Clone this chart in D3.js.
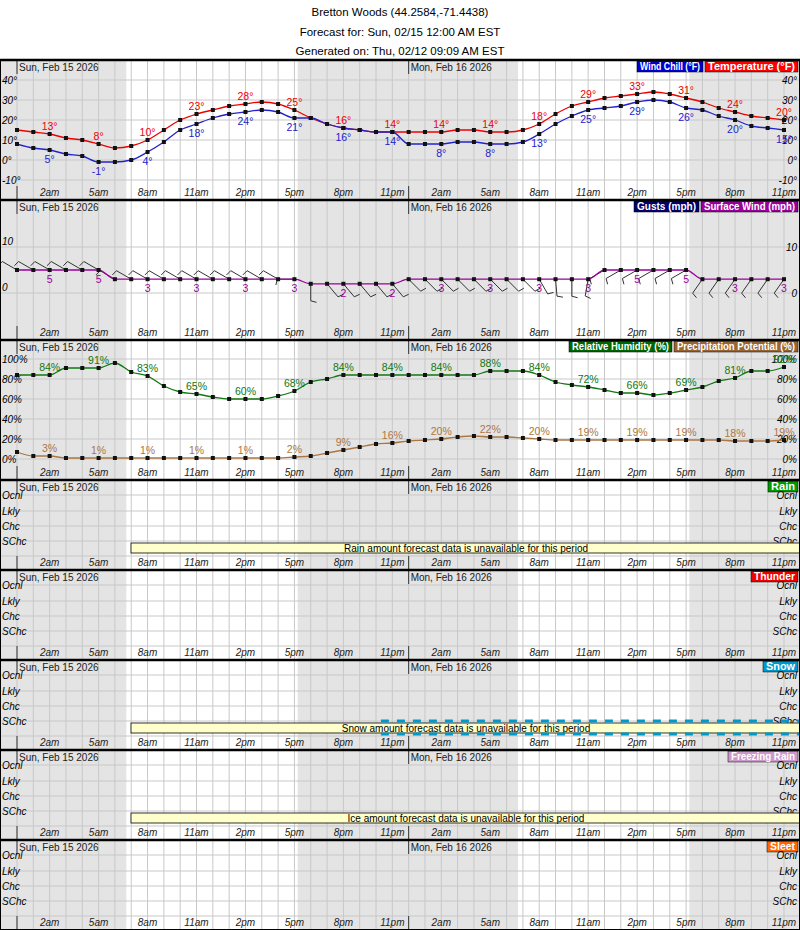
<!DOCTYPE html>
<html><head><meta charset="utf-8">
<script src="https://cdn.jsdelivr.net/npm/d3@7"></script>
<style>body{margin:0;background:#fff}svg{font-family:"Liberation Sans",Arial,sans-serif}</style>
</head><body><div id="app"></div>
<script>
const hours = d3.range(48);
const temperature = [15,14,13,11,10,8,6,7,10,15,20,23,25,27,28,29,28,25,21,18,16,15,14,14,
  14,14,14,15,15,14,14,15,18,23,27,29,31,32,33,34,33,31,29,26,24,22,21,20];
const windChill = [8,6,5,3,2,-1,-1,0,4,9,15,18,21,23,24,25,24,21,21,18,16,15,14,14,
  8,8,8,9,9,8,8,9,13,18,22,25,26,27,29,30,29,26,25,22,20,17,16,15];
const surfaceWind = [5,5,5,5,5,5,3,3,3,3,3,3,3,3,3,3,3,3,2,2,2,2,2,2,
  3,3,3,3,3,3,3,3,3,3,3,3,5,5,5,5,5,5,3,3,3,3,3,3];
const windDir = [300,300,300,300,300,300,300,300,300,300,300,300,300,300,300,300,300,270,180,140,140,140,140,140,
  135,135,135,135,135,135,135,135,150,175,180,190,240,240,240,240,240,240,215,215,215,215,215,215];
const humidity = [84,84,84,91,91,91,96,87,83,73,67,65,62,60,60,60,63,68,77,80,84,84,84,84,
  84,84,84,84,84,88,88,88,84,77,74,72,69,66,66,64,66,69,72,78,81,88,88,92];
const precipPot = [7,3,3,1,1,1,1,1,1,1,1,1,1,1,1,1,1,2,3,6,9,12,15,16,
  18,19,20,22,23,22,22,21,20,19,19,19,19,19,19,19,19,19,19,19,18,18,18,19];
const tickHours = d3.range(2, 48, 3);
const tickLabels = ['2am','5am','8am','11am','2pm','5pm','8pm','11pm'];
const dayLabels = ['Sun, Feb 15 2026', 'Mon, Feb 16 2026'];
const nightSpans = [[-1, 6.7], [17.2, 30.7], [41.2, 49]];
const rowLabels = ['Ocnl', 'Lkly', 'Chc', 'SChc'];

const W = 800, H = 930;
const x = d3.scaleLinear().domain([0, 47]).range([17, 784]);
const svg = d3.select('#app').append('svg').attr('width', W).attr('height', H);

// titles
['Bretton Woods (44.2584,-71.4438)', 'Forecast for: Sun, 02/15 12:00 AM EST', 'Generated on: Thu, 02/12 09:09 AM EST']
  .forEach((t, i) => svg.append('text').attr('x', 400).attr('y', 16 + i * 19.5)
    .attr('text-anchor', 'middle').attr('font-size', 11.5).text(t));

// draw common panel frame: shading, grid, dates, time labels
function panel(top, h, hLines, legends, showTimes = true) {
  const g = svg.append('g');
  g.append('rect').attr('x', 0).attr('y', top).attr('width', W).attr('height', h).attr('fill', '#fff');
  nightSpans.forEach(([a, b]) => g.append('rect')
    .attr('x', Math.max(0, x(a))).attr('y', top).attr('width', Math.min(W, x(b)) - Math.max(0, x(a)))
    .attr('height', h).attr('fill', '#e4e4e4'));
  hours.forEach(d => g.append('line').attr('x1', x(d)).attr('x2', x(d)).attr('y1', top).attr('y2', top + h)
    .attr('stroke', '#c8c8c8'));
  hLines.forEach(yy => g.append('line').attr('x1', 0).attr('x2', W).attr('y1', yy).attr('y2', yy).attr('stroke', '#c8c8c8'));
  [0, 24].forEach((d, i) => {
    g.append('line').attr('x1', x(d)).attr('x2', x(d)).attr('y1', top).attr('y2', top + 14).attr('stroke', '#333');
    g.append('line').attr('x1', x(d)).attr('x2', x(d)).attr('y1', top + h - 14).attr('y2', top + h).attr('stroke', '#333');
    g.append('text').attr('x', x(d) + 2).attr('y', top + 11).attr('font-size', 10).attr('fill', '#222').text(dayLabels[i]);
  });
  if (showTimes) tickHours.forEach((d, i) => g.append('text').attr('x', x(d)).attr('y', top + h - 4)
    .attr('text-anchor', 'middle').attr('font-size', 10).attr('font-style', 'italic').attr('fill', '#222')
    .text(tickLabels[i % 8]));
  let right = 798;
  legends.slice().reverse().forEach(([label, col, wd]) => {
    g.append('rect').attr('x', right - wd).attr('y', top + 1).attr('width', wd).attr('height', 11).attr('fill', col)
      .attr('stroke', '#000').attr('stroke-width', 0.5);
    g.append('text').attr('x', right - wd + 3).attr('y', top + 10)
      .attr('font-size', 10).attr('font-weight', 'bold').attr('fill', '#fff')
      .attr('textLength', wd - 6).attr('lengthAdjust', 'spacingAndGlyphs').text(label);
    right -= wd + 2;
  });
  svg.append('line').attr('x1', 0).attr('x2', W).attr('y1', top).attr('y2', top).attr('stroke', '#000').attr('stroke-width', 2.5);
  return g;
}

function axisLabels(g, scale, vals, fmt) {
  vals.forEach(v => {
    g.append('text').attr('x', 2).attr('y', scale(v) + 4).attr('font-size', 10).attr('font-style', 'italic').text(fmt(v));
    g.append('text').attr('x', 797).attr('y', scale(v) + 4).attr('text-anchor', 'end').attr('font-size', 10)
      .attr('font-style', 'italic').text(fmt(v));
  });
}

function series(g, y, data, color, labelDy, fmt) {
  g.append('path').datum(data).attr('fill', 'none').attr('stroke', color).attr('stroke-width', 1.3)
    .attr('d', d3.line().x((d, i) => x(i)).y(d => y(d)).curve(d3.curveMonotoneX));
  g.selectAll(null).data(data).enter().append('rect')
    .attr('x', (d, i) => x(i) - 2).attr('y', d => y(d) - 2).attr('width', 4).attr('height', 4).attr('fill', '#111');
  tickHours.forEach(i => g.append('text').attr('x', x(i)).attr('y', y(data[i]) + labelDy)
    .attr('text-anchor', 'middle').attr('font-size', 10.5).attr('fill', color).text(fmt(data[i])));
}

// Panel 1: temperature
const yT = d3.scaleLinear().domain([0, 40]).range([160, 80]);
const p1 = panel(60, 140, [80, 100, 120, 140, 160, 180],
  [['Wind Chill (°F)', '#0000cc', 66], ['Temperature (°F)', '#ff0000', 93]]);
axisLabels(p1, yT, [40, 30, 20, 10, 0, -10], v => v + '°');
series(p1, yT, temperature, '#ee0000', -4, v => v + '°');
series(p1, yT, windChill, '#2222cc', 13, v => v + '°');

// Panel 2: wind
const yW = d3.scaleLinear().domain([0, 10]).range([293, 247]);
const p2 = panel(200, 140, [247, 293], [['Gusts (mph)', '#000066', 65], ['Surface Wind (mph)', '#990099', 97]]);
[10, 0].forEach(v => {
  p2.append('text').attr('x', 2).attr('y', yW(v) - 2).attr('font-size', 10).attr('font-style', 'italic').text(v);
  p2.append('text').attr('x', 797).attr('y', yW(v) + 4).attr('text-anchor', 'end').attr('font-size', 10).attr('font-style', 'italic').text(v);
});
surfaceWind.forEach((s, i) => {
  const th = windDir[i] * Math.PI / 180, L = 17;
  const x0 = x(i), y0 = yW(s);
  const x1 = x0 + L * Math.sin(th), y1 = y0 - L * Math.cos(th);
  const t2 = th - Math.PI / 2.4;
  p2.append('path').attr('fill', 'none').attr('stroke', '#333').attr('stroke-width', 1)
    .attr('d', `M${x0},${y0}L${x1},${y1}L${x1 + 6 * Math.sin(t2)},${y1 - 6 * Math.cos(t2)}`);
});
series(p2, yW, surfaceWind, '#990099', 13, v => v);

// Panel 3: humidity / precip
const yH = d3.scaleLinear().domain([0, 100]).range([459, 359]);
const p3 = panel(340, 140, [359, 379, 399, 419, 439, 459],
  [['Relative Humidity (%)', '#006600', 103], ['Precipitation Potential (%)', '#996633', 124]]);
axisLabels(p3, yH, [100, 80, 60, 40, 20, 0], v => v + '%');
series(p3, yH, humidity, '#117711', -4, v => v + '%');
series(p3, yH, precipPot, '#aa7744', -4, v => v + '%');

// Precip type panels
const types = [
  ['Rain', '#009900', 30, 'Rain amount forecast data is unavailable for this period'],
  ['Thunder', '#ee0000', 47, null],
  ['Snow', '#0099cc', 35, 'Snow amount forecast data is unavailable for this period'],
  ['Freezing Rain', '#cc99cc', 70, 'Ice amount forecast data is unavailable for this period'],
  ['Sleet', '#ff6600', 31, null]
];
types.forEach(([name, col, wd, note], k) => {
  const top = 480 + k * 90;
  const rows = [15, 31, 46, 61, 76].map(r => top + r);
  const g = panel(top, 90, rows, [[name, col, wd]]);
  rowLabels.forEach((r, i) => {
    g.append('text').attr('x', 2).attr('y', rows[i] + 4).attr('font-size', 10).attr('font-style', 'italic').text(r);
    g.append('text').attr('x', 797).attr('y', rows[i] + 4).attr('text-anchor', 'end').attr('font-size', 10).attr('font-style', 'italic').text(r);
  });
  if (note) {
    g.append('rect').attr('x', 131).attr('y', top + 63).attr('width', 670).attr('height', 10)
      .attr('fill', '#ffffcc').attr('stroke', '#000').attr('stroke-width', 0.8);
    g.append('text').attr('x', 466).attr('y', top + 72).attr('text-anchor', 'middle').attr('font-size', 10).text(note);
  }
  if (name === 'Snow') {
    [top + 61, top + 74].forEach(yy => g.append('line').attr('x1', x(22.3)).attr('x2', W).attr('y1', yy).attr('y2', yy)
      .attr('stroke', '#0099cc').attr('stroke-width', 3).attr('stroke-dasharray', '8,8'));
  }
});
svg.append('rect').attr('x', 0.5).attr('y', 60).attr('width', W - 1).attr('height', H - 60.5)
  .attr('fill', 'none').attr('stroke', '#000');
</script></body></html>
